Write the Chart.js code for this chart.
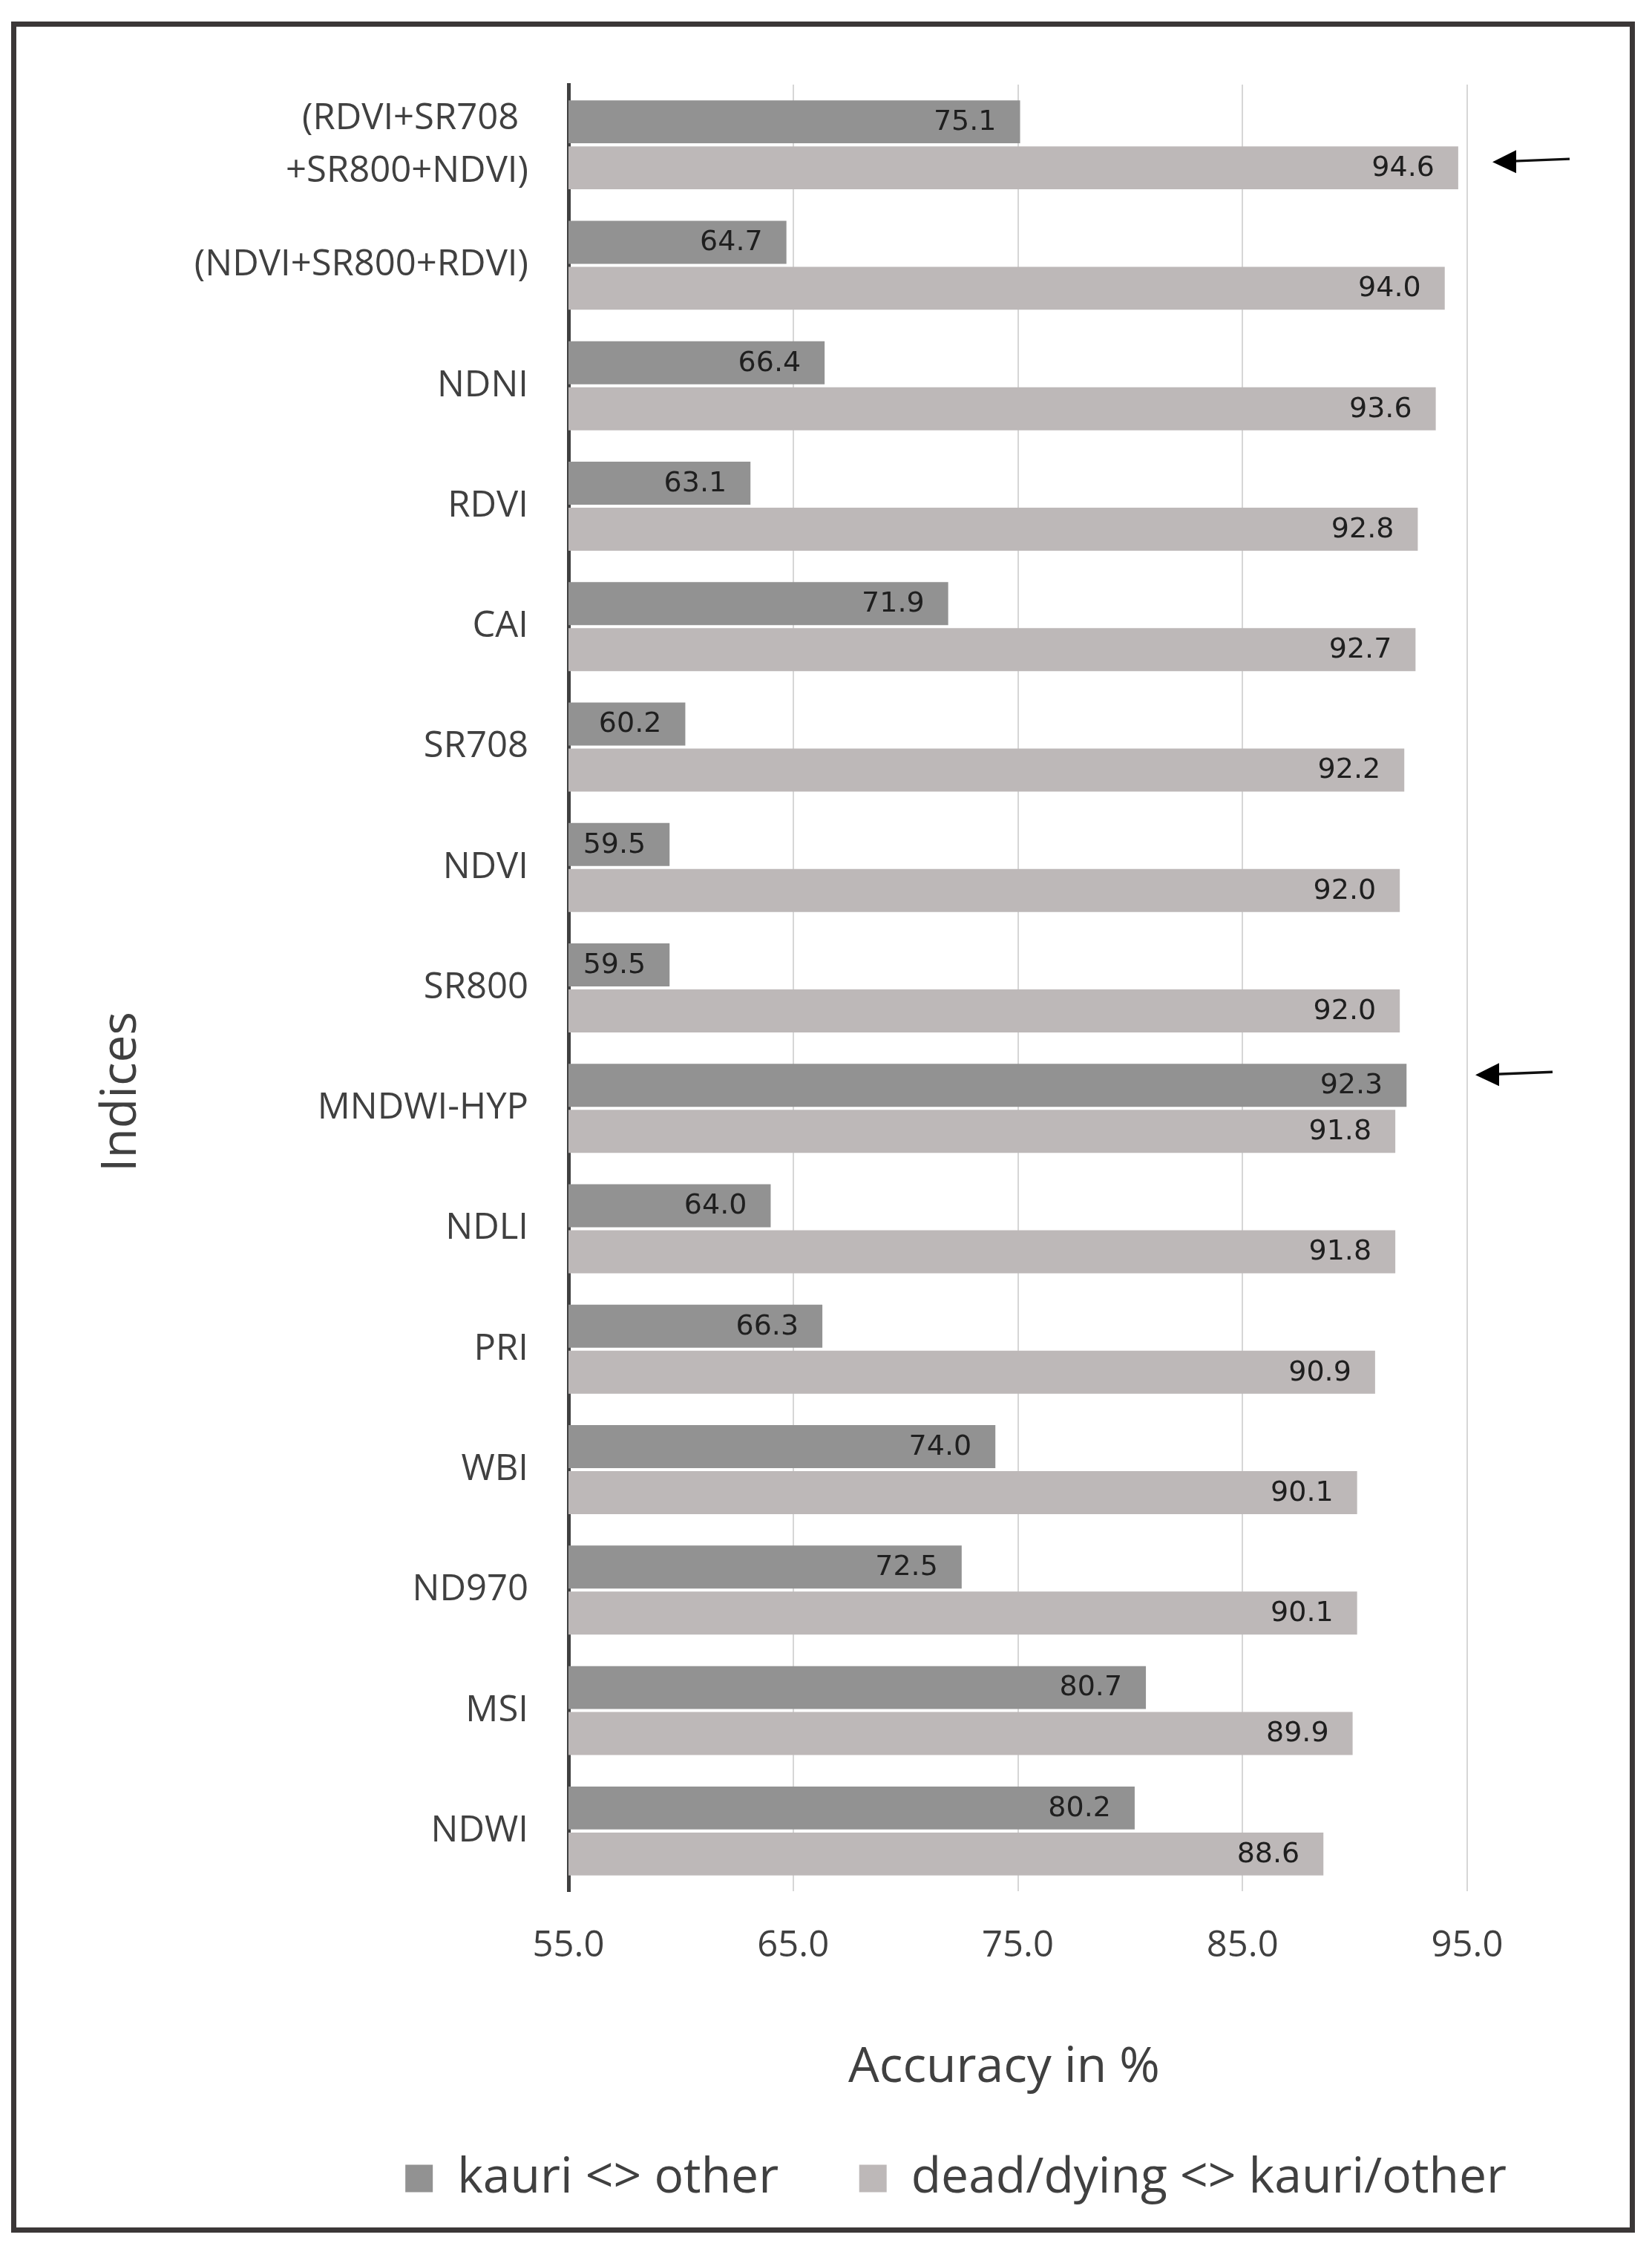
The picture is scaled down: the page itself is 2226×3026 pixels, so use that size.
<!DOCTYPE html>
<html>
<head>
<meta charset="utf-8">
<title>Accuracy in % per index</title>
<script src="https://cdn.jsdelivr.net/npm/chart.js@4.4.1/dist/chart.umd.min.js"></script>
<style>
  html, body { margin: 0; padding: 0; background: #fff; }
  #wrap { position: relative; width: 2226px; height: 3026px; }
  #marc { position: absolute; left: 15px; top: 29px; width: 2188px; height: 2979px;
          box-sizing: border-box; border: 7px solid #3b3737; pointer-events: none; }
</style>
</head>
<body>
<div id="wrap">
  <canvas id="grafic" width="2226" height="3026"></canvas>
  <div id="marc"></div>
</div>
<script>
// Dades
const indices = [
  ["(RDVI+SR708 ", "+SR800+NDVI)"],
  "(NDVI+SR800+RDVI)", "NDNI", "RDVI", "CAI", "SR708", "NDVI", "SR800",
  "MNDWI-HYP", "NDLI", "PRI", "WBI", "ND970", "MSI", "NDWI"
];
const kauriOther = [75.1, 64.7, 66.4, 63.1, 71.9, 60.2, 59.5, 59.5, 92.3, 64.0, 66.3, 74.0, 72.5, 80.7, 80.2];
const deadDying  = [94.6, 94.0, 93.6, 92.8, 92.7, 92.2, 92.0, 92.0, 91.8, 91.8, 90.9, 90.1, 90.1, 89.9, 88.6];
const xTicks = [55, 65, 75, 85, 95];
const seriesNames = ["kauri <> other", "dead/dying <> kauri/other"];
const axisTitles = ["Accuracy in %", "Indices"];
// barres marcades amb fletxa: [serie, index]
const fletxes = [[1, 0], [0, 8]];

const GRIS_TEXT = "#404040";

// etiquetes de valor dins de cada barra
const etiquetes = {
  id: "etiquetes",
  afterDraw(chart) {
    const ctx = chart.ctx;
    ctx.save();
    ctx.font = '38px "DejaVu Sans"';
    ctx.fillStyle = "#1f1f1f";
    ctx.textAlign = "right";
    ctx.textBaseline = "middle";
    chart.data.datasets.forEach((ds, i) => {
      chart.getDatasetMeta(i).data.forEach((bar, j) => {
        let txt = ds.data[j].toFixed(1);
        let w = ctx.measureText(txt).width;
        let x = Math.max(bar.x - 32, bar.base + 33 + w);
        ctx.fillText(txt, x, bar.y + 1);
      });
    });
    ctx.restore();
  }
};

// fletxes i titols dels eixos
const extres = {
  id: "extres",
  afterDraw(chart) {
    const ctx = chart.ctx;
    const x95 = chart.scales.x.getPixelForValue(95);
    const desplX = [34, 11];
    const desplY = [-8, -14];
    ctx.save();
    ctx.fillStyle = "#000";
    ctx.strokeStyle = "#111";
    ctx.lineWidth = 3.5;
    fletxes.forEach((f, k) => {
      let bar = chart.getDatasetMeta(f[0]).data[f[1]];
      let y = bar.y + desplY[k];
      let punta = x95 + desplX[k];
      let cua = punta + 104;
      ctx.beginPath();
      ctx.moveTo(punta + 28, y - 1);
      ctx.lineTo(cua, y - 4);
      ctx.stroke();
      ctx.beginPath();
      ctx.moveTo(punta, y);
      ctx.lineTo(punta + 32, y - 16);
      ctx.lineTo(punta + 32, y + 15);
      ctx.closePath();
      ctx.fill();
    });

    ctx.fillStyle = GRIS_TEXT;
    ctx.font = '66px "Open Sans"';
    ctx.textAlign = "center";
    ctx.textBaseline = "middle";
    ctx.fillText(axisTitles[0], 1353, 2786);
    ctx.translate(164, 1471);
    ctx.rotate(-Math.PI / 2);
    ctx.fillText(axisTitles[1], 0, 0);
    ctx.restore();
  }
};

function crearGrafic() {
  let node = document.querySelector("#grafic");
  new Chart(node, {
    type: "bar",
    data: {
      labels: indices,
      datasets: [
        { label: seriesNames[0], data: kauriOther, backgroundColor: "#929292", borderWidth: 0, xAxisID: "x", yAxisID: "y" },
        { label: seriesNames[1], data: deadDying, backgroundColor: "#bdb8b8", borderWidth: 0, xAxisID: "x", yAxisID: "y" }
      ]
    },
    options: {
      indexAxis: "y",
      responsive: false,
      animation: false,
      events: [],
      categoryPercentage: 0.764,
      barPercentage: 0.935,
      layout: { padding: { top: 114, left: 0, right: 156, bottom: 48 } },
      scales: {
        x: {
          type: "linear",
          min: 55,
          max: 95,
          z: 1,
          afterBuildTicks: s => { s.ticks = xTicks.map(v => ({ value: v })); },
          afterFit: s => { s.height = 314; },
          grid: {
            drawTicks: false,
            lineWidth: 2,
            color: c => (c.tick && c.tick.value === 55) ? "rgba(0,0,0,0)" : "rgba(0,0,0,0.16)"
          },
          border: { display: false },
          ticks: {
            padding: 45,
            color: GRIS_TEXT,
            font: { family: "Open Sans", size: 49 },
            callback: v => Number(v).toFixed(1)
          },
          title: { display: false }
        },
        y: {
          type: "category",
          position: "left",
          z: 1,
          afterFit: s => { s.width = 766; },
          grid: { display: false, drawTicks: false },
          border: { display: true, color: GRIS_TEXT, width: 5 },
          ticks: {
            padding: 54,
            color: GRIS_TEXT,
            font: { family: "Open Sans", size: 49, lineHeight: 1.45 }
          }
        },
        yr: {
          type: "linear",
          position: "right",
          grid: { display: false, drawTicks: false },
          border: { display: false },
          ticks: { display: false },
          afterFit: s => { s.width = 93; }
        }
      },
      plugins: {
        tooltip: { enabled: false },
        legend: {
          position: "bottom",
          align: "end",
          labels: {
            color: GRIS_TEXT,
            font: { family: "Open Sans", size: 66 },
            boxWidth: 37,
            boxHeight: 37,
            padding: 40,
            generateLabels(chart) {
              let items = Chart.defaults.plugins.legend.labels.generateLabels(chart);
              items[0].text = items[0].text + "    ";
              return items;
            }
          }
        }
      }
    },
    plugins: [etiquetes, extres]
  });
}

window.addEventListener("load", function () {
  "use strict";
  crearGrafic();
});
</script>
</body>
</html>
